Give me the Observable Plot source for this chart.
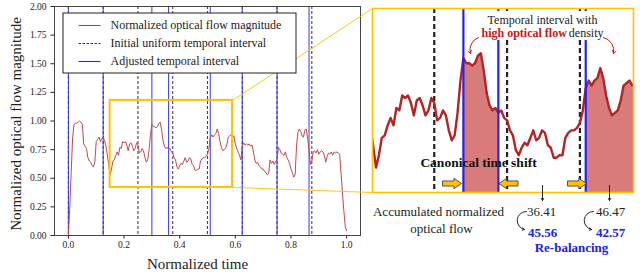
<!DOCTYPE html>
<html><head><meta charset="utf-8">
<script src="https://cdn.jsdelivr.net/npm/d3@7"></script>
<script src="https://cdn.jsdelivr.net/npm/@observablehq/plot@0.6"></script>
<style>
html,body{margin:0;padding:0;background:#fff;}
#wrap{position:relative;width:640px;height:275px;overflow:hidden;background:#fff;}
#wrap svg{position:absolute;left:0;top:0;}
</style></head><body><div id="wrap"></div>
<script>
// ---- data ----
const flowStep = 0.005; // sample spacing along normalized time
const flowValues = [
 0.00,0.25,0.55,0.85,0.97,0.98,0.98,0.99,1.00,0.99,
 0.97,0.80,0.78,0.76,0.68,0.65,0.64,0.61,0.60,0.64,
 0.82,0.84,0.86,0.82,0.85,0.86,0.83,0.78,0.70,0.62,
 0.53,0.58,0.65,0.66,0.70,0.73,0.70,0.77,0.76,0.82,
 0.81,0.82,0.79,0.74,0.80,0.81,0.78,0.74,0.76,0.81,
 0.79,0.72,0.73,0.76,0.74,0.68,0.64,0.66,0.75,0.88,
 0.97,0.95,0.95,0.94,0.95,0.98,0.99,0.92,0.83,0.78,
 0.76,0.77,0.75,0.76,0.73,0.72,0.68,0.66,0.60,0.58,
 0.61,0.63,0.62,0.65,0.68,0.64,0.65,0.68,0.67,0.62,
 0.61,0.57,0.57,0.58,0.58,0.65,0.67,0.68,0.68,0.69,
 0.71,0.76,0.85,0.88,0.86,0.88,0.89,0.93,0.89,0.82,
 0.77,0.74,0.75,0.76,0.80,0.86,0.87,0.88,0.86,0.87,
 0.80,0.76,0.73,0.70,0.66,0.78,0.81,0.79,0.80,0.79,
 0.80,0.78,0.79,0.73,0.66,0.63,0.64,0.61,0.60,0.58,
 0.58,0.56,0.55,0.53,0.54,0.66,0.63,0.65,0.62,0.65,
 0.66,0.77,0.75,0.72,0.71,0.70,0.73,0.68,0.66,0.63,
 0.58,0.55,0.51,0.53,0.78,0.90,0.93,0.91,0.87,0.86,
 0.92,0.93,0.85,0.74,0.62,0.65,0.73,0.74,0.72,0.75,
 0.71,0.73,0.74,0.73,0.70,0.64,0.69,0.72,0.71,0.73,
 0.70,0.73,0.72,0.73,0.72,0.71,0.55,0.38,0.22,0.08,
 0.04
];
const initialIntervals = [0, 0.125, 0.25, 0.375, 0.5, 0.625, 0.75, 0.875];
const adjustedIntervals = [0, 0.125, 0.30, 0.36, 0.51, 0.625, 0.75, 0.865];
const xTicks = [0, 0.2, 0.4, 0.6, 0.8, 1.0];
const yTicks = [0, 0.25, 0.5, 0.75, 1.0, 1.25, 1.5, 1.75, 2.0];
const zoomX = [0.15, 0.59];
const zoomY = [0.42, 1.18];
const insetX = [0.144, 0.592];
const insetY = [0.43, 1.17];
const legendLabels = ["Normalized optical flow magnitude", "Initial uniform temporal interval", "Adjusted temporal interval"];
const accumulatedBefore = ["36.41", "46.47"];
const accumulatedAfter = ["45.56", "42.57"];

// ---- derived tables ----
const flow = flowValues.map((v, i) => ({t: Math.round(i * flowStep * 1000) / 1000, v}));
const highlights = [[adjustedIntervals[2], adjustedIntervals[3]], [adjustedIntervals[4], adjustedIntervals[5]]];
const fillData = [];
highlights.forEach(([a, b], k) => flow.forEach(d => { if (d.t >= a - 1e-9 && d.t <= b + 1e-9) fillData.push({...d, seg: k}); }));

const serif = "'Liberation Serif', 'Times New Roman', serif";
const wrap = document.getElementById("wrap");

// ---- main chart ----
const main = Plot.plot({
  width: 640, height: 275,
  marginLeft: 54, marginRight: 280, marginTop: 6, marginBottom: 40,
  style: {fontFamily: serif, fontSize: "9.5px", background: "transparent", color: "#222"},
  x: {domain: [-0.05, 1.05]},
  y: {domain: [0, 2]},
  marks: [
    Plot.axisX(xTicks, {tickSize: 3.5, tickPadding: 2.5, tickFormat: d3.format(".1f"), label: null}),
    Plot.axisY(yTicks, {tickSize: 3.5, tickPadding: 4.5, tickFormat: d3.format(".2f"), label: null}),
    Plot.ruleX(initialIntervals, {stroke: "#444", strokeWidth: 1.1, strokeDasharray: "3,2"}),
    Plot.ruleX(adjustedIntervals, {stroke: "#3636e6", strokeWidth: 1.1, strokeOpacity: 0.9}),
    Plot.line(flow, {x: "t", y: "v", stroke: "#c04a4a", strokeWidth: 1}),
    Plot.rect([{}], {x1: () => zoomX[0], x2: () => zoomX[1], y1: () => zoomY[0], y2: () => zoomY[1], fill: "none", stroke: "#ffc000", strokeWidth: 2}),
    Plot.frame({stroke: "#444"}),
    Plot.text(["Normalized time"], {frameAnchor: "bottom", textAnchor: "middle", lineAnchor: "middle", dx: -10, dy: 29, fontSize: 15}),
    Plot.text(["Normalized optical flow magnitude"], {frameAnchor: "left", textAnchor: "middle", lineAnchor: "middle", rotate: -90, dx: -38, dy: 3, fontSize: 15})
  ]
});
wrap.appendChild(main);

// ---- zoomed inset ----
const inset = Plot.plot({
  width: 640, height: 275,
  marginLeft: 372, marginRight: 7, marginTop: 8, marginBottom: 83,
  style: {background: "transparent"},
  x: {domain: insetX, axis: null},
  y: {domain: insetY, axis: null},
  marks: [
    Plot.areaY(fillData, {x: "t", y: "v", z: "seg", fill: "#d97b7b", clip: true}),
    Plot.ruleX(initialIntervals, {stroke: "#222", strokeWidth: 2.2, strokeDasharray: "5,3", clip: true}),
    Plot.line(flow, {x: "t", y: "v", stroke: "#b32424", strokeWidth: 2.4, clip: true}),
    Plot.ruleX(adjustedIntervals, {stroke: "#2424e8", strokeWidth: 2.2, clip: true}),
    Plot.frame({stroke: "#ffc000", strokeWidth: 1.6})
  ]
});
wrap.appendChild(inset);

// ---- overlay: connectors, legend, annotations (pixel space) ----
const mx = main.scale("x"), my = main.scale("y"), ix = inset.scale("x"), iy = inset.scale("y");
const connectors = [
  {x1: mx.apply(zoomX[1]), y1: my.apply(zoomY[1]), x2: ix.apply(insetX[0]), y2: iy.apply(insetY[1])},
  {x1: mx.apply(zoomX[1]), y1: my.apply(zoomY[0]), x2: ix.apply(insetX[0]), y2: iy.apply(insetY[0])}
];
const legendRows = legendLabels.map((label, i) => ({label, i, y: 25 + i * 18}));
const legendStyles = [
  {stroke: "#e02828", dash: null},
  {stroke: "#333", dash: "2.5,1.5"},
  {stroke: "#2a2ae8", dash: null}
];
const arrowRight = {draw(ctx, size) {
  const L = Math.sqrt(size / Math.PI), h1 = L * 0.27, h2 = L * 0.55, hx = L * 0.2;
  ctx.moveTo(-L, -h1); ctx.lineTo(hx, -h1); ctx.lineTo(hx, -h2); ctx.lineTo(L, 0);
  ctx.lineTo(hx, h2); ctx.lineTo(hx, h1); ctx.lineTo(-L, h1); ctx.closePath();
}};
const arrowLeft = {draw(ctx, size) {
  const L = Math.sqrt(size / Math.PI), h1 = L * 0.27, h2 = L * 0.55, hx = L * 0.2;
  ctx.moveTo(L, -h1); ctx.lineTo(-hx, -h1); ctx.lineTo(-hx, -h2); ctx.lineTo(-L, 0);
  ctx.lineTo(-hx, h2); ctx.lineTo(-hx, h1); ctx.lineTo(L, h1); ctx.closePath();
}};
const blue = "#2020dd", red = "#cc1414";

const overlay = Plot.plot({
  width: 640, height: 275, margin: 0,
  style: {fontFamily: serif, background: "transparent", color: "#222"},
  x: {type: "identity", axis: null},
  y: {type: "identity", axis: null},
  marks: [
    Plot.link(connectors, {x1: "x1", y1: "y1", x2: "x2", y2: "y2", stroke: "#ffc000", strokeWidth: 0.9}),
    // legend
    Plot.rect([{}], {x1: () => 63, x2: () => 296, y1: () => 13, y2: () => 73, fill: "white", stroke: "#222", strokeWidth: 1}),
    ...legendRows.map(r => Plot.link([r], {x1: () => 78, x2: () => 100, y1: "y", y2: "y", stroke: legendStyles[r.i].stroke, strokeWidth: 1.1, strokeDasharray: legendStyles[r.i].dash})),
    Plot.text(legendRows, {x: () => 110, y: "y", text: "label", textAnchor: "start", fontSize: 12}),
    // inset annotations
    Plot.rect([{}], {x1: () => 477, x2: () => 607, y1: () => 11, y2: () => 40, fill: "white"}),
    Plot.text(["Temporal interval with"], {x: () => 542, y: () => 19.5, fontSize: 12}),
    Plot.text(["high optical flow"], {x: () => 481, y: () => 32.5, fontSize: 12, fontWeight: "bold", fill: red, textAnchor: "start"}),
    Plot.text(["density"], {x: () => 603, y: () => 32.5, fontSize: 12, textAnchor: "end"}),
    Plot.arrow([{x1: 478, y1: 37, x2: 470, y2: 53}], {x1: "x1", y1: "y1", x2: "x2", y2: "y2", bend: -45, stroke: red, strokeWidth: 1, headLength: 5}),
    Plot.arrow([{x1: 603, y1: 37, x2: 613, y2: 53}], {x1: "x1", y1: "y1", x2: "x2", y2: "y2", bend: 45, stroke: red, strokeWidth: 1, headLength: 5}),
    Plot.text(["Canonical time shift"], {x: () => 478, y: () => 162, fontSize: 13.5, fontWeight: "bold", fill: "#111"}),
    Plot.dot([{x: 451.5, y: 183}, {x: 576.5, y: 183}], {x: "x", y: "y", r: 9.5, symbol: arrowRight, fill: "#ffc000", stroke: "#333", strokeWidth: 0.8}),
    Plot.dot([{x: 508, y: 183}], {x: "x", y: "y", r: 9.5, symbol: arrowLeft, fill: "#ffc000", stroke: "#333", strokeWidth: 0.8}),
    Plot.arrow([{x: 542}, {x: 609}], {x1: "x", x2: "x", y1: () => 185, y2: () => 200, stroke: "#111", strokeWidth: 0.9, headLength: 4}),
    // accumulated flow texts
    Plot.text(["Accumulated normalized"], {x: () => 438, y: () => 211, fontSize: 13}),
    Plot.text(["optical flow"], {x: () => 441, y: () => 228, fontSize: 13}),
    Plot.text(accumulatedBefore, {x: (d, i) => [541, 610][i], y: () => 211, fontSize: 13}),
    Plot.text(accumulatedAfter, {x: (d, i) => [542, 610][i], y: () => 232, fontSize: 13, fontWeight: "bold", fill: blue}),
    Plot.arrow([{x: 526}, {x: 593}], {x1: "x", x2: (d) => d.x - 2, y1: () => 211, y2: () => 229, bend: -85, stroke: "#111", strokeWidth: 0.9, headLength: 4}),
    Plot.text(["Re-balancing"], {x: () => 571, y: () => 247.5, fontSize: 13, fontWeight: "bold", fill: blue})
  ]
});
wrap.appendChild(overlay);
</script></body></html>
